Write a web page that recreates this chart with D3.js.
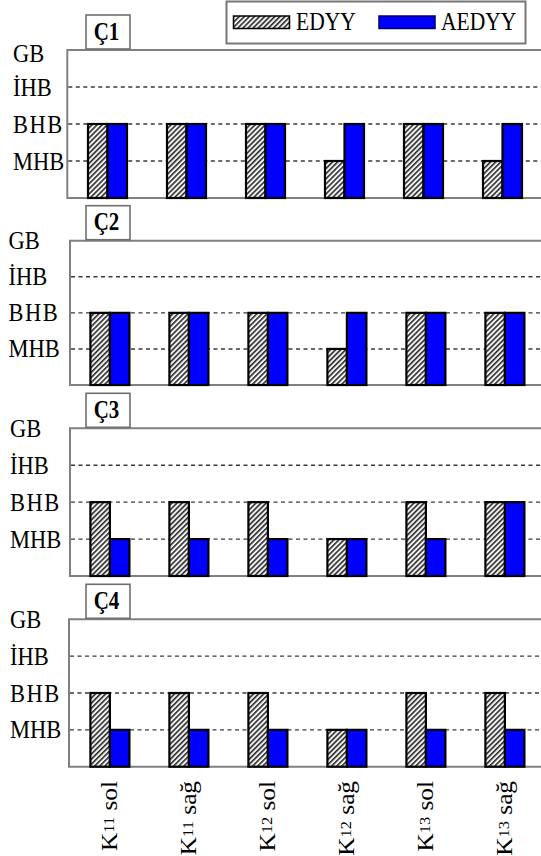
<!DOCTYPE html>
<html><head><meta charset="utf-8">
<script src="https://cdn.jsdelivr.net/npm/d3@7"></script>
<style>body{margin:0;background:#fff;} svg{display:block;}</style>
</head><body>
<svg id="chart" width="541" height="856"></svg>
<script>
// ---- data ----
const categories = ["K11 sol","K11 sağ","K12 sol","K12 sağ","K13 sol","K13 sağ"];
const levelTicks = [1,2,3,4];
const levelLabels = ["MHB","BHB","İHB","GB"];
const panelNames = ["Ç1","Ç2","Ç3","Ç4"];
const seriesNames = ["EDYY","AEDYY"];
const edyyC1 = [2,2,2,1,2,1];
const aedyyC1 = [2,2,2,2,2,2];
const edyyC2 = [2,2,2,1,2,2];
const aedyyC2 = [2,2,2,2,2,2];
const edyyC3 = [2,2,2,1,2,2];
const aedyyC3 = [1,1,1,1,1,2];
const edyyC4 = [2,2,2,1,2,2];
const aedyyC4 = [1,1,1,1,1,1];

// ---- layout ----
const panelTop = [50, 240.7, 428.3, 619.3];
const panelBottom = [198, 385, 576, 766.7];
const plotLeft = [67.3, 70, 70, 69];
const groupStart = [68, 70.4, 70.4, 70.4];
const labelX = [13, 8.5, 10, 10];
const step = 79;
const plotRight = 560;
const FONT = "'Liberation Serif','Times New Roman',serif";

const svg = d3.select("#chart");
const defs = svg.append("defs");
const pat = defs.append("pattern").attr("id","hatch").attr("patternUnits","userSpaceOnUse")
  .attr("width",3.6).attr("height",3.6).attr("patternTransform","rotate(45)");
pat.append("rect").attr("width",3.6).attr("height",3.6).attr("fill","#f2f2f2");
pat.append("line").attr("x1",0.8).attr("y1",0).attr("x2",0.8).attr("y2",3.6)
  .attr("stroke","#1e1e1e").attr("stroke-width",1.5);

const color = d3.scaleOrdinal().domain(seriesNames).range(["url(#hatch)","#0000ff"]);

const panelData = [
  [edyyC1, aedyyC1],[edyyC2, aedyyC2],[edyyC3, aedyyC3],[edyyC4, aedyyC4]
];

let lastX = null, lastP = 3;
panelNames.forEach((name, p) => {
  const g = svg.append("g");
  const y = d3.scaleLinear().domain([0,4]).range([panelBottom[p], panelTop[p]]);
  const x = d3.scaleBand().domain(categories).range([groupStart[p], groupStart[p] + step*categories.length]);
  const xs = d3.scaleBand().domain(seriesNames).range([20, step-20]);
  if (p === 3) lastX = x;

  // frame
  g.append("path")
    .attr("d", `M${plotRight},${panelTop[p]}H${plotLeft[p]}V${panelBottom[p]}H${plotRight}`)
    .attr("fill","none").attr("stroke","#808080").attr("stroke-width",2);

  // gridlines
  g.selectAll(".grid").data(levelTicks.filter(v => v < 4)).enter().append("line")
    .attr("x1", plotLeft[p]+1).attr("x2", plotRight)
    .attr("y1", d => y(d)).attr("y2", d => y(d))
    .attr("stroke","#3a3a3a").attr("stroke-width",1.4).attr("stroke-dasharray","4,3.5");

  // y axis labels
  const ax = g.append("g").attr("transform",`translate(${plotLeft[p]},0)`)
    .call(d3.axisLeft(y).tickValues(levelTicks).tickFormat((d,i) => levelLabels[i]).tickSize(0));
  ax.select(".domain").remove();
  ax.selectAll(".tick text").each(function(d){
    const t = d3.select(this);
    const yy = y(d) + (d === 4 && p === 0 ? 11.5 : 8);
    t.attr("x", null).attr("y", null).attr("dy", null)
     .attr("transform", `translate(${labelX[p]-plotLeft[p]},${yy - y(d)}) scale(1,1.1)`)
     .attr("text-anchor","start")
     .attr("font-family",FONT).attr("font-size",22.5).attr("fill","#000")
     .attr("letter-spacing", d === 2 ? 1.5 : 0);
  });

  // bars
  const vals = panelData[p];
  const rows = categories.map((c,i) => ({c, v: seriesNames.map((s,k) => ({s, val: vals[k][i]}))}));
  const grp = g.selectAll(".grp").data(rows).enter().append("g")
    .attr("transform", d => `translate(${x(d.c)},0)`);
  grp.selectAll("rect").data(d => d.v).enter().append("rect")
    .attr("x", d => xs(d.s)).attr("width", xs.bandwidth())
    .attr("y", d => y(d.val)).attr("height", d => y(0) - y(d.val))
    .attr("fill", d => color(d.s)).attr("stroke","#000").attr("stroke-width",2.2);

  // panel title box
  const bt = panelTop[p] - 35;
  g.append("rect").attr("x",86).attr("y",bt).attr("width",44).attr("height",34)
    .attr("fill","#fff").attr("stroke","#707070").attr("stroke-width",1.6);
  g.append("text").attr("transform",`translate(106.5,${bt+24.5}) scale(1,1.17)`)
    .attr("text-anchor","middle").attr("font-family",FONT).attr("font-weight","bold")
    .attr("font-size",21).attr("fill","#000").text(name);
});

// x axis labels (bottom panel)
const xa = svg.append("g").attr("transform",`translate(0,${panelBottom[lastP]})`)
  .call(d3.axisBottom(lastX).tickSize(0));
xa.select(".domain").remove();
xa.selectAll("text").each(function(d){
  const t = d3.select(this);
  const m = d.match(/^K(\d+) (.*)$/);
  t.text(null).attr("y",0).attr("dy",null)
    .attr("transform",`translate(7,${781-panelBottom[lastP]}) rotate(-90) scale(1.1,1)`)
    .attr("text-anchor","end").attr("font-family",FONT).attr("font-size",23).attr("fill","#000");
  t.append("tspan").text("K");
  t.append("tspan").attr("font-size",15).attr("dy",-2.5).text(m[1]);
  t.append("tspan").attr("dy",2.5).text(" " + m[2]);
});

// legend
const lg = svg.append("g");
lg.append("rect").attr("x",226.5).attr("y",1.5).attr("width",299).attr("height",42)
  .attr("fill","#fff").attr("stroke","#777").attr("stroke-width",2);
const legX = d3.scaleOrdinal().domain(seriesNames).range([233.5, 379]);
const legTX = d3.scaleOrdinal().domain(seriesNames).range([296, 441]);
lg.selectAll(".sw").data(seriesNames).enter().append("rect")
  .attr("x", d => legX(d)).attr("y",16).attr("width",56).attr("height",12.5)
  .attr("fill", d => color(d)).attr("stroke", d => d === "EDYY" ? "#000" : "#00006a").attr("stroke-width",1.5);
lg.selectAll(".lt").data(seriesNames).enter().append("text")
  .attr("transform", d => `translate(${legTX(d)},30) scale(1,1.2)`)
  .attr("font-family",FONT).attr("font-size",21.5).attr("fill","#000").text(d => d);
</script>
</body></html>
